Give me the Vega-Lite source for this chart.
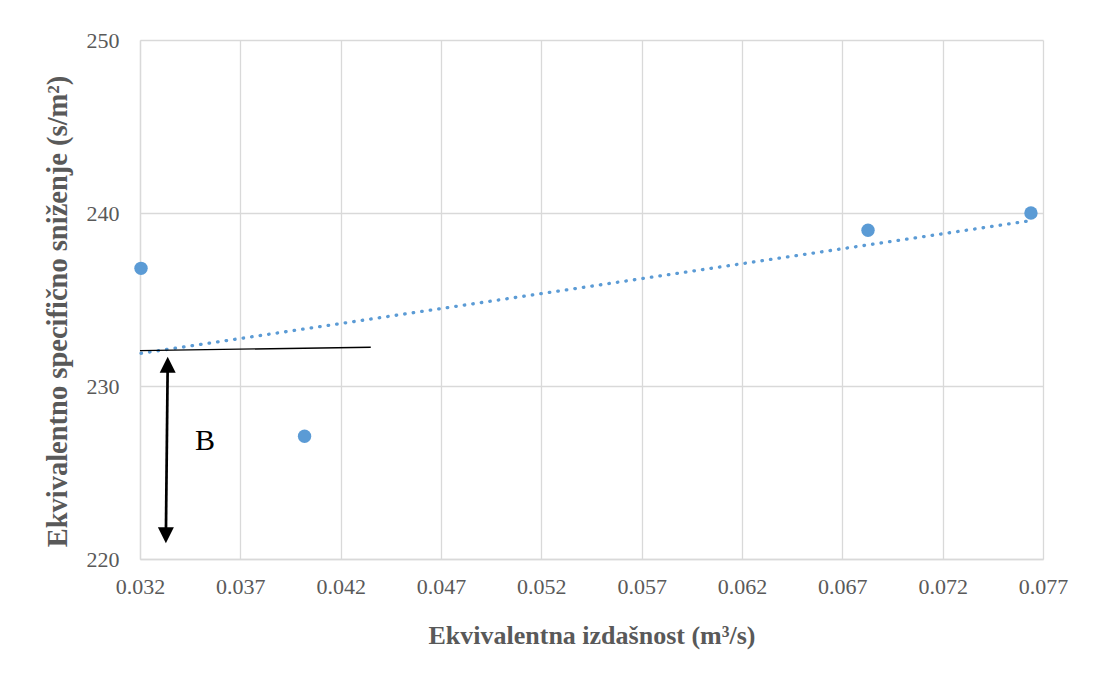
{
  "$schema": "https://vega.github.io/schema/vega-lite/v6.json",
  "width": 903,
  "height": 519,
  "autosize": "none",
  "padding": {"left": 140, "top": 40, "right": 51, "bottom": 116},
  "background": "white",
  "config": {
    "view": {"stroke": null},
    "font": "Liberation Serif",
    "axis": {
      "labelFont": "Liberation Serif",
      "titleFont": "Liberation Serif",
      "labelColor": "#595959",
      "titleColor": "#595959",
      "labelFontSize": 22,
      "titleFontWeight": "bold",
      "gridColor": "#d9d9d9",
      "gridWidth": 1.3,
      "domainColor": "#d9d9d9",
      "domainWidth": 1.3,
      "ticks": false,
      "labelFlush": false
    }
  },
  "datasets": {
    "obs": [
      {"q": 0.03205, "s": 236.8},
      {"q": 0.0402, "s": 227.1},
      {"q": 0.06828, "s": 239.0},
      {"q": 0.0764, "s": 240.0}
    ],
    "trend": [
      {"q": 0.03205, "s": 231.89},
      {"q": 0.0764, "s": 239.56}
    ],
    "tangent": [
      {"q": 0.032, "s": 232.04},
      {"q": 0.0435, "s": 232.24}
    ],
    "shaft": [
      {"q": 0.03338, "s": 231.3, "q2": 0.03329, "s2": 221.3}
    ],
    "headUp": [
      {"q": 0.03338, "s": 231.23}
    ],
    "headDown": [
      {"q": 0.03329, "s": 221.37}
    ],
    "label": [
      {"q": 0.03524, "s": 226.84, "t": "B"}
    ]
  },
  "encoding": {
    "x": {
      "field": "q",
      "type": "quantitative",
      "scale": {"domain": [0.032, 0.077], "nice": false, "zero": false},
      "axis": {
        "values": [0.032, 0.037, 0.042, 0.047, 0.052, 0.057, 0.062, 0.067, 0.072, 0.077],
        "format": ".3f",
        "title": "Ekvivalentna izdašnost (m³/s)",
        "titleFontSize": 26,
        "labelPadding": 17,
        "titlePadding": 25
      }
    },
    "y": {
      "field": "s",
      "type": "quantitative",
      "scale": {"domain": [220, 250], "nice": false, "zero": false},
      "axis": {
        "values": [220, 230, 240, 250],
        "title": "Ekvivalentno specifično sniženje (s/m²)",
        "titleFontSize": 28.5,
        "titleY": 271,
        "labelPadding": 21,
        "titlePadding": 14
      }
    }
  },
  "layer": [
    {
      "data": {"name": "trend"},
      "mark": {"type": "line", "color": "#5b9bd5", "strokeWidth": 3.3, "strokeDash": [0.5, 8.1], "strokeCap": "round"}
    },
    {
      "data": {"name": "tangent"},
      "mark": {"type": "line", "color": "black", "strokeWidth": 1.3}
    },
    {
      "data": {"name": "shaft"},
      "mark": {"type": "rule", "color": "black", "strokeWidth": 2.7},
      "encoding": {
        "x2": {"field": "q2"},
        "y2": {"field": "s2"}
      }
    },
    {
      "data": {"name": "headUp"},
      "mark": {"type": "point", "shape": "M0,-1L-1,1L1,1Z", "filled": true, "color": "black", "size": 256, "opacity": 1}
    },
    {
      "data": {"name": "headDown"},
      "mark": {"type": "point", "shape": "M0,1L-1,-1L1,-1Z", "filled": true, "color": "black", "size": 256, "opacity": 1}
    },
    {
      "data": {"name": "obs"},
      "mark": {"type": "point", "shape": "circle", "filled": true, "color": "#5b9bd5", "size": 180, "opacity": 1}
    },
    {
      "data": {"name": "label"},
      "mark": {"type": "text", "font": "Liberation Serif", "fontSize": 30, "color": "black", "align": "center", "baseline": "middle"},
      "encoding": {"text": {"field": "t"}}
    }
  ]
}
